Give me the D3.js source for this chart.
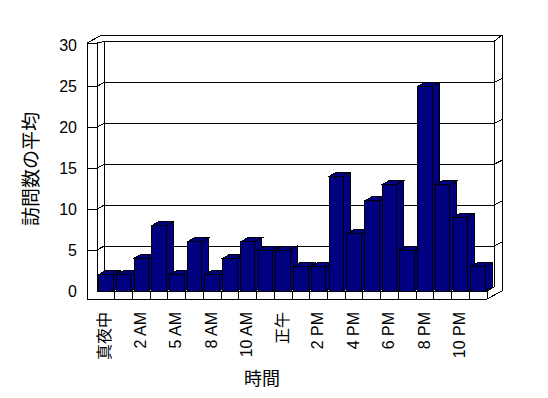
<!DOCTYPE html>
<meta charset="utf-8">
<style>
html,body{margin:0;background:#fff;}
svg{display:block;}
text{font-family:"Liberation Sans","Noto Sans CJK JP",sans-serif;fill:#000;}
.box line{stroke:#000;stroke-width:1px;shape-rendering:crispEdges;}
.bar path{fill:#000080;stroke:#000;stroke-width:1px;shape-rendering:crispEdges;}
</style>
<body>
<script src="https://d3js.org/d3.v7.min.js"></script>
<script>

var hours = ["真夜中","1 AM","2 AM","3 AM","5 AM","6 AM","8 AM","9 AM","10 AM","11 AM","正午",
             "1 PM","2 PM","3 PM","4 PM","5 PM","6 PM","7 PM","8 PM","9 PM","10 PM","11 PM"];
var visits = [2,2,4,8,2,6,2,4,6,5,5,3,3,14,7,11,13,5,25,13,9,3];
var yTicks = [0,5,10,15,20,25,30];

var width = 548, height = 398;

var svg = d3.select("body").append("svg")
    .attr("width", width)
    .attr("height", height);

var y = d3.scaleLinear().domain([0,30]).range([291,45.5]);
var xCat = d3.scaleBand().domain(hours).range([97,487]);
var xBar = d3.scaleBand().domain(hours).range([97,487]).paddingInner(0.18).paddingOuter(0.09);

// depth offsets: inner (floor / bars / back wall face) and outer (wall thickness)
var dx = 7, dy = -4, ox = 15, oy = -8, wall = 10, floorH = 8;
var x0 = xCat.range()[0], x1 = xCat.range()[1], y0 = y(0), yTop = y(30) - 2.5;

var box = svg.append("g").attr("class","box");
function ln(a,b,c,d){ box.append("line").attr("x1",a).attr("y1",b).attr("x2",c).attr("y2",d); }

// back wall
ln(x0-wall+ox, yTop+oy, x1+ox, yTop+oy);
ln(x1+ox, yTop+oy, x1+ox, y0+floorH+oy);
ln(x0+dx, y(30)+dy, x1+dx, y(30)+dy);
ln(x1+dx, y(30)+dy, x1+dx, y0+dy);
ln(x1+dx, y(30)+dy, x1+ox, yTop+oy);
ln(x0+dx, y(30)+dy, x0+dx, y0+dy);

// left wall
ln(x0-wall, yTop, x0-wall, y0+floorH);
ln(x0, yTop, x0, y0);
ln(x0-wall, yTop, x0, yTop);
ln(x0-wall, yTop, x0-wall+ox, yTop+oy);
ln(x0, yTop, x0+dx, y(30)+dy);

// floor
ln(x0-wall, y0+floorH, x1, y0+floorH);
ln(x0, y0, x1, y0);
ln(x0+dx, y0+dy, x1+dx, y0+dy);
ln(x1, y0+floorH, x1+ox, y0+floorH+oy);
ln(x1, y0, x1+dx, y0+dy);
hours.forEach(function(h){ ln(xCat(h)+xCat.step(), y0, xCat(h)+xCat.step(), y0+floorH); });

// gridlines
yTicks.filter(function(v){ return v > 0 && v < 30; }).forEach(function(v){
  ln(x0-wall, y(v), x0, y(v));
  ln(x0, y(v), x0+dx, y(v)+dy);
  ln(x0+dx, y(v)+dy, x1+dx, y(v)+dy);
  ln(x1+dx, y(v)+dy, x1+ox, y(v)+oy);
});

// bars
var bw = xBar.bandwidth();
var bars = svg.append("g").attr("class","bar")
  .selectAll("g").data(visits).enter().append("g");

bars.append("path").attr("d", function(d,i){
  var bx = xBar(hours[i]), t = y(d);
  return "M"+bx+","+y0+"L"+bx+","+t+"L"+(bx+bw)+","+t+"L"+(bx+bw)+","+y0+"Z";
});
bars.append("path").attr("d", function(d,i){
  var bx = xBar(hours[i]), t = y(d);
  return "M"+bx+","+t+"L"+(bx+dx)+","+(t+dy)+"L"+(bx+bw+dx)+","+(t+dy)+"L"+(bx+bw)+","+t+"Z";
});
bars.append("path").attr("d", function(d,i){
  var bx = xBar(hours[i]) + bw, t = y(d);
  return "M"+bx+","+t+"L"+(bx+dx)+","+(t+dy)+"L"+(bx+dx)+","+(y0+dy)+"L"+bx+","+y0+"Z";
});

// y tick labels
svg.append("g").selectAll("text").data(yTicks).enter().append("text")
  .attr("x", 77)
  .attr("y", function(d){ return y(d); })
  .attr("dy", "0.35em")
  .attr("text-anchor", "end")
  .style("font-size", "16px")
  .text(function(d){ return d; });

// category labels (every other one)
svg.append("g").selectAll("text").data(hours.filter(function(h,i){ return i % 2 == 0; }))
  .enter().append("text")
  .attr("transform", function(d){ return "translate(" + (xCat(d) + xCat.bandwidth()/2 - 1) + ",312) rotate(-90)"; })
  .attr("dy", "0.35em")
  .attr("text-anchor", "end")
  .style("font-size", "16px")
  .text(function(d){ return d; });

// axis titles
svg.append("text")
  .attr("transform", "translate(31,169) rotate(-90)")
  .attr("dy", "0.35em")
  .attr("text-anchor", "middle")
  .style("font-size", "19px")
  .text("訪問数の平均");

svg.append("text")
  .attr("x", 262).attr("y", 379)
  .attr("dy", "0.35em")
  .attr("text-anchor", "middle")
  .style("font-size", "18px")
  .text("時間");

</script>
</body>
</html>
